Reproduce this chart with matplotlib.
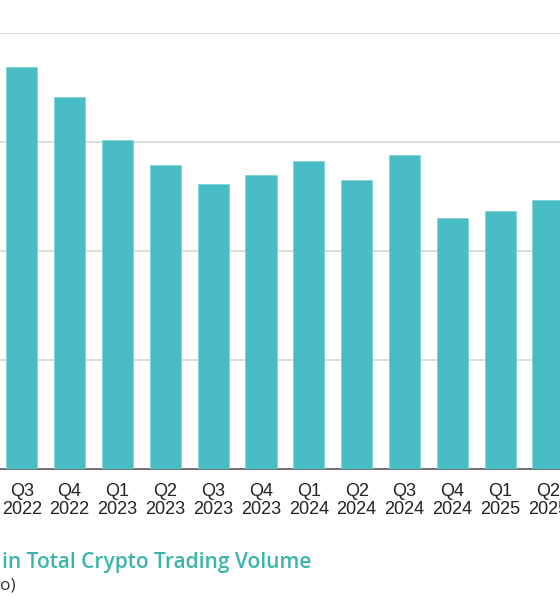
import matplotlib.pyplot as plt
import numpy as np

# quarters shown in the crop (grid step = 10)
quarters = ["Q3", "Q4", "Q1", "Q2", "Q3", "Q4", "Q1", "Q2", "Q3", "Q4", "Q1", "Q2"]
years = ["2022", "2022", "2023", "2023", "2023", "2023",
         "2024", "2024", "2024", "2024", "2025", "2025"]
share = [36.9, 34.2, 30.2, 27.9, 26.2, 27.0, 28.3, 26.5, 28.8, 23.1, 23.7, 24.7]
grid_values = [10, 20, 30, 40]

bar_color = "#48bdc6"
title_color = "#3bb5aa"

fig = plt.figure(figsize=(5.6, 6), dpi=100)
# axes spans the whole width; chart is cropped left and right
ax = fig.add_axes([0, 0.2178, 1, 0.7267])

x = np.arange(len(share))
ax.bar(x, share, width=0.65, color=bar_color, edgecolor="#7fd3d8",
       linewidth=0.6, zorder=3)

ax.set_xlim(-0.455, 11.25)
ax.set_ylim(0, 40)
ax.set_yticks(grid_values)
ax.set_yticklabels([])
ax.tick_params(axis="y", length=0)
ax.yaxis.grid(True, color="#d6d6d6", linewidth=1.2, zorder=0)
ax.set_axisbelow(True)

for side in ["left", "right", "top"]:
    ax.spines[side].set_visible(False)
ax.spines["bottom"].set_color("#555555")
ax.spines["bottom"].set_linewidth(1.2)

ax.set_xticks(x)
ax.set_xticklabels([f"{q}\n{y}" for q, y in zip(quarters, years)],
                   fontsize=13, color="#222222", family="Liberation Sans",
                   linespacing=1.08)
ax.tick_params(axis="x", length=0, pad=10)

fig.text(0.004, 0.053, "in Total Crypto Trading Volume", color=title_color,
         fontsize=15, fontweight="semibold", family="Open Sans", va="baseline")
fig.text(0.0, 0.018, "o)", color="#333333", fontsize=12.5,
         family="Open Sans", va="baseline")

fig.savefig("out.png", dpi=100)
